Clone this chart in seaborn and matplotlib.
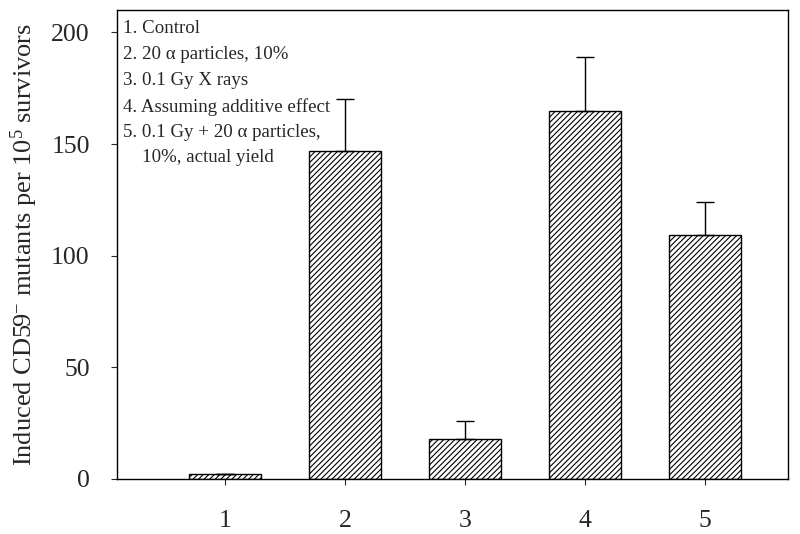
import matplotlib
matplotlib.use("Agg")
from matplotlib import pyplot as plt
import seaborn as sns
import pandas as pd

categories = ["1", "2", "3", "4", "5"]
means = [2.4, 147, 18, 165, 109.5]
upper_errors = [0, 23, 8, 24, 14.5]
legend_lines = [
    "1. Control",
    "2. 20 \u03b1 particles, 10%",
    "3. 0.1 Gy X rays",
    "4. Assuming additive effect",
    "5. 0.1 Gy + 20 \u03b1 particles,",
    "    10%, actual yield",
]
y_ticks = [0, 50, 100, 150, 200]

df = pd.DataFrame({"group": categories, "mutants": means})

sns.set_theme(style="ticks")
plt.rcParams['font.family'] = ['Liberation Serif', 'DejaVu Serif']
plt.rcParams['mathtext.fontset'] = 'custom'
plt.rcParams['mathtext.rm'] = 'Liberation Serif'
plt.rcParams['mathtext.it'] = 'Liberation Serif:italic'
plt.rcParams['hatch.linewidth'] = 0.8
plt.rcParams['hatch.color'] = 'black'

fig = plt.figure(figsize=(8, 5.34), dpi=100)
ax = fig.add_axes([0.146, 0.103, 0.839, 0.878])

sns.barplot(data=df, x="group", y="mutants", color="white", edgecolor="black",
            linewidth=1.0, width=0.6, errorbar=None, ax=ax)
for bar in ax.patches:
    bar.set_hatch('//////')

# only the upper half of each error bar is drawn
xs = [p.get_x() + p.get_width() / 2 for p in ax.patches]
ax.errorbar(xs, means, yerr=[[0] * len(means), upper_errors], fmt='none',
            ecolor='black', elinewidth=1.0, capsize=6.5, capthick=1.0)

ax.set_xlim(-0.9, 4.69)
ax.set_ylim(0, 210)
ax.set_yticks(y_ticks)
ax.set_xlabel('')
ax.set_ylabel(r'Induced CD59$^{\mathrm{-}}$ mutants per 10$^{\mathrm{5}}$ survivors',
              fontsize=19, labelpad=8)
ax.tick_params(axis='both', labelsize=18.5, direction='out', length=4.5, width=0.8)
ax.tick_params(axis='x', pad=18)
ax.tick_params(axis='y', pad=15)
for spine in ax.spines.values():
    spine.set_linewidth(1.0)
    spine.set_color('black')

for i, line in enumerate(legend_lines):
    ax.text(0.009, 0.978 - i * 0.055, line, transform=ax.transAxes, fontsize=13.6,
            va='top', ha='left')

plt.savefig('out.png', dpi=100)
